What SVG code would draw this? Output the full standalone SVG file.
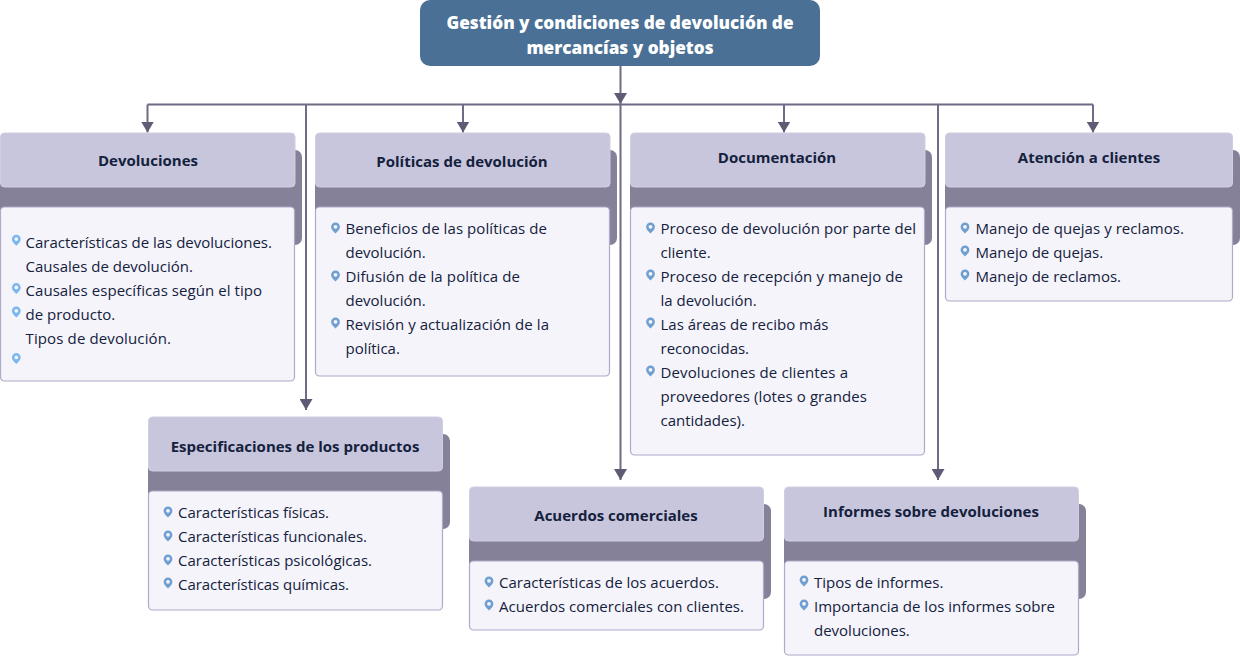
<svg xmlns="http://www.w3.org/2000/svg" width="1240" height="656" viewBox="0 0 1240 656">
<style>
text{font-family:"Open Sans","Noto Sans","Liberation Sans",sans-serif;fill:#14213d}
.t{font-size:15px;font-weight:700;text-anchor:middle}
.b{font-size:15px}
.r{font-size:17.2px;font-weight:800;fill:#fff;text-anchor:middle}
.band{fill:#858199}
.head{fill:#c8c6dc;stroke:#d0cee2;stroke-width:1}
.body{fill:#f4f4fa;stroke:#aeaaca;stroke-width:1.2}
.c{fill:none;stroke:#6f6b85;stroke-width:2}
</style>
<defs>
<marker id="a" markerUnits="userSpaceOnUse" markerWidth="12" markerHeight="13" refX="11" refY="6.500" orient="auto" viewBox="0 0 12 13"><path d="M0 0L11 6.500L0 13Z" fill="#5f5b75"/></marker>
<g id="pin"><path d="M0 -5.500a4.400 4.400 0 0 1 4.400 4.400c0 2.600-2.500 4.300-4.400 6.600c-1.900-2.300-4.400-4-4.400-6.600a4.400 4.400 0 0 1 4.400-4.400z" fill="#6f9fd0"/><circle cx="0" cy="-1.200" r="1.900" fill="#f4f4fa"/></g>
<g id="pin2"><path d="M0 -5.500a4.400 4.400 0 0 1 4.400 4.400c0 2.600-2.500 4.300-4.400 6.600c-1.900-2.300-4.400-4-4.400-6.600a4.400 4.400 0 0 1 4.400-4.400z" fill="#7ab6f0"/><circle cx="0" cy="-1.200" r="1.900" fill="#f4f4fa"/></g>
</defs>
<g id="connectors">
<path class="c" d="M620.500 66V104" marker-end="url(#a)"/>
<path class="c" d="M147.500 104.500H1093"/>
<path class="c" d="M147.500 104.500V132.500" marker-end="url(#a)"/>
<path class="c" d="M463 104.500V132.500" marker-end="url(#a)"/>
<path class="c" d="M784 104.500V132.500" marker-end="url(#a)"/>
<path class="c" d="M1093 104.500V132.500" marker-end="url(#a)"/>
<path class="c" d="M306 104.500V410" marker-end="url(#a)"/>
<path class="c" d="M620.500 104.500V480" marker-end="url(#a)"/>
<path class="c" d="M938 104.500V480" marker-end="url(#a)"/>
</g>
<g id="root"><rect x="420" y="0" width="400" height="66" rx="10" fill="#4a7095"/>
<text class="r" x="620" y="29">Gestión y condiciones de devolución de</text>
<text class="r" x="620" y="54">mercancías y objetos</text></g>
<g id="n1"><rect class="band" x="0" y="150" width="302" height="95" rx="7"/><rect class="head" x="0.500" y="133" width="294.500" height="54" rx="4"/><rect class="body" x="0.500" y="207" width="294" height="174" rx="4"/>
<text class="t" x="148" y="166">Devoluciones</text>
<use href="#pin2" x="16.300" y="240.300"/><use href="#pin2" x="16.300" y="288.600"/><use href="#pin2" x="16.300" y="312"/><use href="#pin2" x="16.300" y="358.600"/>
<text class="b" x="25.500" y="248">Características de las devoluciones.</text><text class="b" x="25.500" y="272">Causales de devolución.</text><text class="b" x="25.500" y="296" textLength="236.500">Causales específicas según el tipo</text><text class="b" x="25.500" y="320">de producto.</text><text class="b" x="25.500" y="344" textLength="145.500">Tipos de devolución.</text></g>
<g id="n2"><rect class="band" x="315" y="150" width="302" height="95" rx="7"/><rect class="head" x="315.500" y="133" width="294.500" height="54" rx="4"/><rect class="body" x="315.500" y="207" width="294" height="169" rx="4"/>
<text class="t" x="462" y="167">Políticas de devolución</text>
<use href="#pin" x="335.500" y="228"/><use href="#pin" x="335.500" y="276"/><use href="#pin" x="335.500" y="323"/>
<text class="b" x="345.500" y="234" textLength="201.500">Beneficios de las políticas de</text><text class="b" x="345.500" y="258">devolución.</text><text class="b" x="345.500" y="282" textLength="174.500">Difusión de la política de</text><text class="b" x="345.500" y="306">devolución.</text><text class="b" x="345.500" y="330" textLength="203.500">Revisión y actualización de la</text><text class="b" x="345.500" y="354">política.</text></g>
<g id="n3"><rect class="band" x="630" y="150" width="302" height="95" rx="7"/><rect class="head" x="630.500" y="133" width="294.500" height="54" rx="4"/><rect class="body" x="630.500" y="207" width="294" height="248" rx="4"/>
<text class="t" x="777" y="163">Documentación</text>
<use href="#pin" x="650.500" y="228"/><use href="#pin" x="650.500" y="275"/><use href="#pin" x="650.500" y="323"/><use href="#pin" x="650.500" y="371"/>
<text class="b" x="660.500" y="234" textLength="255.500">Proceso de devolución por parte del</text><text class="b" x="660.500" y="258">cliente.</text><text class="b" x="660.500" y="282" textLength="242.500">Proceso de recepción y manejo de</text><text class="b" x="660.500" y="306">la devolución.</text><text class="b" x="660.500" y="330">Las áreas de recibo más</text><text class="b" x="660.500" y="354">reconocidas.</text><text class="b" x="660.500" y="378" textLength="187.500">Devoluciones de clientes a</text><text class="b" x="660.500" y="402" textLength="206.500">proveedores (lotes o grandes</text><text class="b" x="660.500" y="426">cantidades).</text></g>
<g id="n4"><rect class="band" x="945" y="150" width="295" height="95" rx="7"/><rect class="head" x="945.500" y="133" width="287" height="54" rx="4"/><rect class="body" x="945.500" y="207" width="287" height="94" rx="4"/>
<text class="t" x="1089" y="163">Atención a clientes</text>
<use href="#pin" x="965" y="228"/><use href="#pin" x="965" y="251"/><use href="#pin" x="965" y="275"/>
<text class="b" x="975.500" y="234" textLength="208.500">Manejo de quejas y reclamos.</text><text class="b" x="975.500" y="258">Manejo de quejas.</text><text class="b" x="975.500" y="282">Manejo de reclamos.</text></g>
<g id="n5"><rect class="band" x="148" y="434" width="302" height="95" rx="7"/><rect class="head" x="148.500" y="417" width="294" height="54" rx="4"/><rect class="body" x="148.500" y="491" width="294" height="119" rx="4"/>
<text class="t" x="295" y="452">Especificaciones de los productos</text>
<use href="#pin" x="168" y="512"/><use href="#pin" x="168" y="536"/><use href="#pin" x="168" y="560"/><use href="#pin" x="168" y="583"/>
<text class="b" x="178" y="518" textLength="151">Características físicas.</text><text class="b" x="178" y="542" textLength="189">Características funcionales.</text><text class="b" x="178" y="566" textLength="194">Características psicológicas.</text><text class="b" x="178" y="590" textLength="171">Características químicas.</text></g>
<g id="n6"><rect class="band" x="469" y="504" width="302" height="95" rx="7"/><rect class="head" x="469.500" y="487" width="294" height="54" rx="4"/><rect class="body" x="469.500" y="561" width="294" height="69" rx="4"/>
<text class="t" x="616" y="521">Acuerdos comerciales</text>
<use href="#pin" x="489" y="582"/><use href="#pin" x="489" y="605"/>
<text class="b" x="499" y="588">Características de los acuerdos.</text><text class="b" x="499" y="612" textLength="245">Acuerdos comerciales con clientes.</text></g>
<g id="n7"><rect class="band" x="784" y="504" width="302" height="95" rx="7"/><rect class="head" x="784.500" y="487" width="294" height="54" rx="4"/><rect class="body" x="784.500" y="561" width="294" height="94" rx="4"/>
<text class="t" x="931" y="517">Informes sobre devoluciones</text>
<use href="#pin" x="804" y="581"/><use href="#pin" x="804" y="605"/>
<text class="b" x="814" y="588">Tipos de informes.</text><text class="b" x="814" y="612" textLength="241">Importancia de los informes sobre</text><text class="b" x="814" y="636">devoluciones.</text></g>
</svg>
